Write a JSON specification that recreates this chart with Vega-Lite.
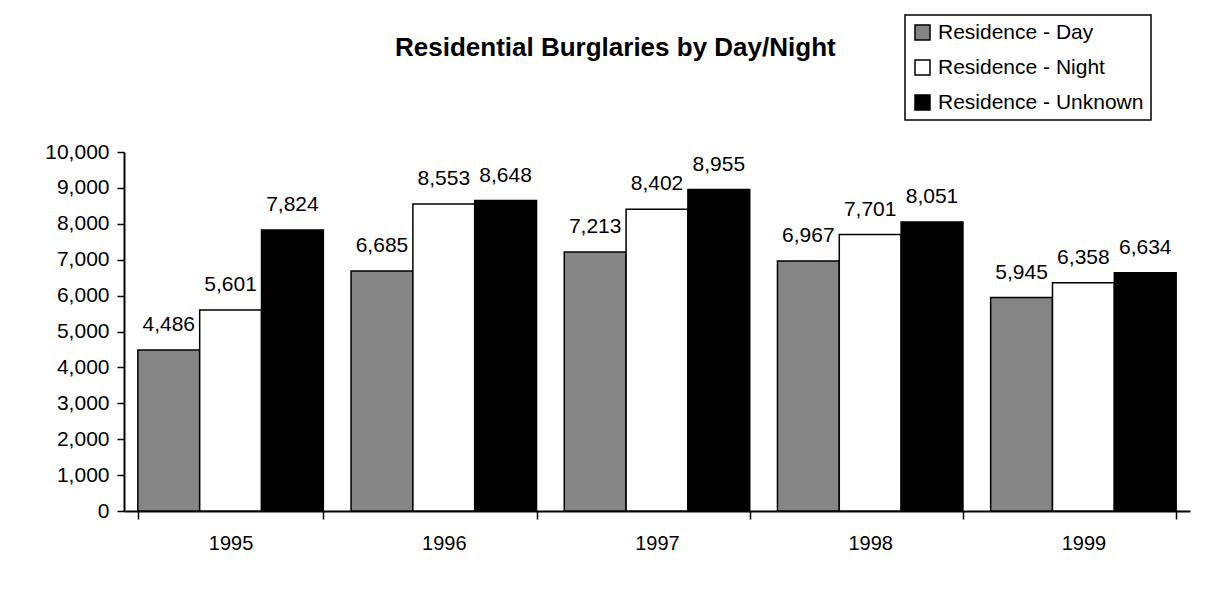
{
  "$schema": "https://vega.github.io/schema/vega-lite/v6.json",
  "width": 1066,
  "height": 359,
  "autosize": {"type": "none"},
  "padding": {"left": 124, "top": 152, "right": 31, "bottom": 83},
  "background": "white",
  "title": {
    "text": "Residential Burglaries by Day/Night",
    "anchor": "start",
    "frame": "group",
    "dx": 271,
    "offset": -68,
    "baseline": "alphabetic",
    "font": "Liberation Sans",
    "fontSize": 26,
    "fontWeight": "bold",
    "color": "black"
  },
  "data": {
    "values": [
      {"year": "1995", "type": "Residence - Day", "count": 4486},
      {"year": "1995", "type": "Residence - Night", "count": 5601},
      {"year": "1995", "type": "Residence - Unknown", "count": 7824},
      {"year": "1996", "type": "Residence - Day", "count": 6685},
      {"year": "1996", "type": "Residence - Night", "count": 8553},
      {"year": "1996", "type": "Residence - Unknown", "count": 8648},
      {"year": "1997", "type": "Residence - Day", "count": 7213},
      {"year": "1997", "type": "Residence - Night", "count": 8402},
      {"year": "1997", "type": "Residence - Unknown", "count": 8955},
      {"year": "1998", "type": "Residence - Day", "count": 6967},
      {"year": "1998", "type": "Residence - Night", "count": 7701},
      {"year": "1998", "type": "Residence - Unknown", "count": 8051},
      {"year": "1999", "type": "Residence - Day", "count": 5945},
      {"year": "1999", "type": "Residence - Night", "count": 6358},
      {"year": "1999", "type": "Residence - Unknown", "count": 6634}
    ]
  },
  "encoding": {
    "x": {
      "field": "year",
      "type": "nominal",
      "scale": {"paddingInner": 0.13, "paddingOuter": 0.065},
      "axis": {
        "title": null,
        "labelAngle": 0,
        "tickBand": "extent",
        "tickSize": 8,
        "tickWidth": 1.5,
        "tickColor": "black",
        "domainColor": "black",
        "domainWidth": 2,
        "labelPadding": 14,
        "labelFont": "Liberation Sans",
        "labelFontSize": 20,
        "labelColor": "black"
      }
    },
    "xOffset": {"field": "type", "type": "nominal", "scale": {"paddingInner": 0, "paddingOuter": 0}},
    "y": {
      "field": "count",
      "type": "quantitative",
      "scale": {"domain": [0, 10000], "nice": false},
      "axis": {
        "title": null,
        "values": [0, 1000, 2000, 3000, 4000, 5000, 6000, 7000, 8000, 9000, 10000],
        "format": ",.0f",
        "grid": false,
        "tickSize": 7,
        "tickWidth": 1.5,
        "tickColor": "black",
        "domainColor": "black",
        "domainWidth": 2,
        "labelPadding": 8,
        "labelFont": "Liberation Sans",
        "labelFontSize": 21,
        "labelColor": "black"
      }
    }
  },
  "layer": [
    {
      "mark": {"type": "bar", "stroke": "black", "strokeWidth": 1.5},
      "encoding": {
        "color": {
          "field": "type",
          "type": "nominal",
          "scale": {
            "domain": ["Residence - Day", "Residence - Night", "Residence - Unknown"],
            "range": ["#858585", "#ffffff", "#000000"]
          },
          "legend": {
            "title": null,
            "orient": "none",
            "legendX": 781,
            "legendY": -137,
            "symbolType": "square",
            "symbolSize": 225,
            "symbolStrokeColor": "black",
            "symbolStrokeWidth": 1.5,
            "labelFont": "Liberation Sans",
            "labelFontSize": 21,
            "labelLimit": 400,
            "labelColor": "black",
            "labelOffset": 5,
            "rowPadding": 13,
            "padding": 7,
            "strokeColor": "black",
            "fillColor": "white"
          }
        }
      }
    },
    {
      "mark": {
        "type": "text",
        "dy": -19,
        "baseline": "alphabetic",
        "font": "Liberation Sans",
        "fontSize": 21,
        "color": "black"
      },
      "encoding": {
        "text": {"field": "count", "type": "quantitative", "format": ",.0f"}
      }
    }
  ],
  "config": {
    "view": {"stroke": null},
    "legend": {"strokeWidth": 1.5}
  }
}
